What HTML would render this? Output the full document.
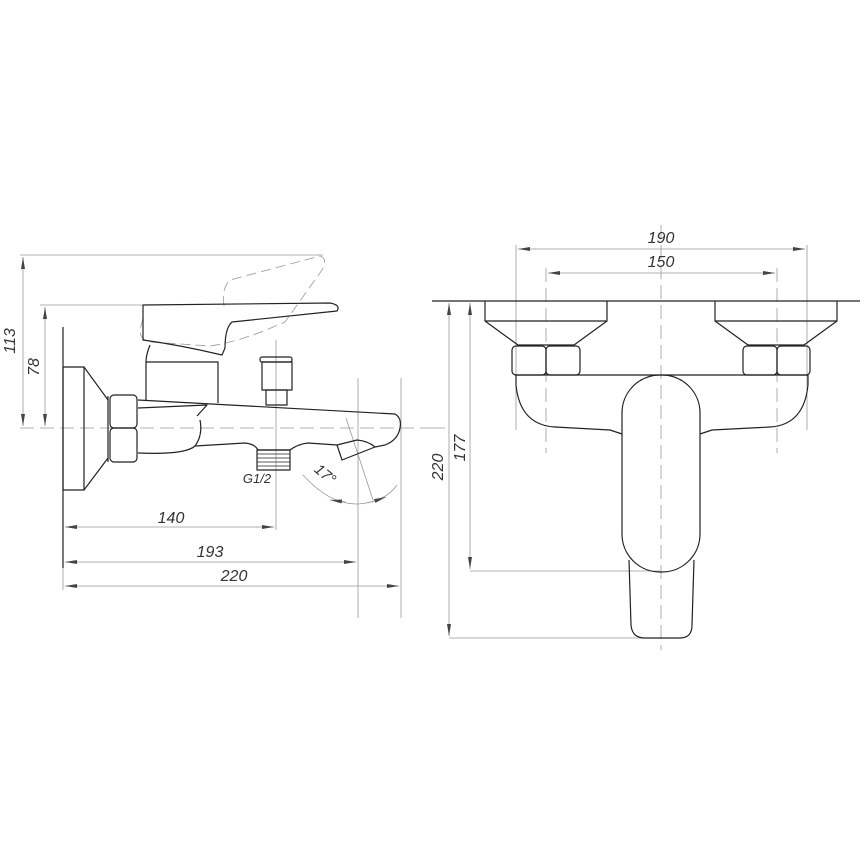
<!DOCTYPE html>
<html><head><meta charset="utf-8"><style>html,body{margin:0;padding:0;background:#fff}svg{display:block}</style></head>
<body>
<svg width="867" height="867" viewBox="0 0 867 867" xmlns="http://www.w3.org/2000/svg">
<defs>
<marker id="a" viewBox="0 0 12 4" refX="12" refY="2" markerWidth="12" markerHeight="4" orient="auto-start-reverse" markerUnits="userSpaceOnUse"><path d="M0,0L12,2L0,4z" fill="#444"/></marker>
</defs>
<g fill="none" stroke="#999" stroke-width="0.8">
<line x1="20" y1="255" x2="323" y2="255"/>
<line x1="40" y1="305" x2="150" y2="305"/>
<line x1="23" y1="257" x2="23" y2="426" marker-start="url(#a)" marker-end="url(#a)"/>
<line x1="45" y1="307" x2="45" y2="426" marker-start="url(#a)" marker-end="url(#a)"/>
<line x1="20" y1="428" x2="420" y2="428" stroke-dasharray="14,6"/>
<line x1="276" y1="340" x2="276" y2="530"/>
<line x1="358" y1="378" x2="358" y2="618"/>
<line x1="401" y1="378" x2="401" y2="618"/>
<line x1="63" y1="560" x2="63" y2="590"/>
<line x1="65" y1="527" x2="274" y2="527" marker-start="url(#a)" marker-end="url(#a)"/>
<line x1="65" y1="562" x2="356" y2="562" marker-start="url(#a)" marker-end="url(#a)"/>
<line x1="65" y1="586" x2="399" y2="586" marker-start="url(#a)" marker-end="url(#a)"/>
<line x1="346" y1="418" x2="373" y2="500"/>
<path d="M303,475 Q330,505 358,504 Q385,502 397,485"/>
<line x1="346" y1="502" x2="330" y2="500" marker-end="url(#a)"/>
<line x1="372" y1="502" x2="386" y2="497" marker-end="url(#a)"/>
<line x1="516" y1="245" x2="516" y2="430"/>
<line x1="807" y1="245" x2="807" y2="430"/>
<line x1="546" y1="268" x2="546" y2="453" stroke-dasharray="14,6"/>
<line x1="777" y1="268" x2="777" y2="453" stroke-dasharray="14,6"/>
<line x1="518" y1="249" x2="805" y2="249" marker-start="url(#a)" marker-end="url(#a)"/>
<line x1="548" y1="273" x2="775" y2="273" marker-start="url(#a)" marker-end="url(#a)"/>
<line x1="661" y1="225" x2="661" y2="650" stroke-dasharray="14,6"/>
<line x1="449" y1="303" x2="449" y2="636" marker-start="url(#a)" marker-end="url(#a)"/>
<line x1="470" y1="303" x2="470" y2="569" marker-start="url(#a)" marker-end="url(#a)"/>
<line x1="449" y1="638" x2="660" y2="638"/>
<line x1="470" y1="571" x2="660" y2="571"/>
<line x1="420" y1="428" x2="445" y2="428"/>
<path d="M143,318 L140,330 Q140,340 150,342 L210,346 Q240,342 285,322 L322,270 Q328,258 320,256 L230,280 Q220,290 225,310" stroke-dasharray="10,5"/>
</g>
<g fill="none" stroke="#222" stroke-width="1.2" stroke-linejoin="round">
<line x1="63" y1="327" x2="63" y2="568"/>
<rect x="63" y="367" width="21" height="123"/>
<path d="M84,367 L108,400 M84,490 L108,458"/>
<line x1="108" y1="396" x2="108" y2="462"/>
<rect x="110" y="395" width="27" height="33" rx="4"/>
<rect x="110" y="428" width="27" height="34" rx="4"/>
<path d="M143,305 L330,303 Q341,305 337,311 L232,322 Q225,328 225,348 L222,355 Q180,345 143,340 Z"/>
<path d="M150,345 Q146,355 146,362 L218,362 L218,403"/>
<line x1="146" y1="362" x2="146" y2="400"/>
<path d="M138,400 L395,414 Q402,418 400,428 Q398,440 385,445 L375,447"/>
<path d="M138,408 L207,405 L197,416"/>
<path d="M138,453 Q185,455 195,446 Q203,435 200,420"/>
<path d="M195,446 L245,443 Q255,444 258,450 L290,450 Q298,444 308,443 L337,445"/>
<path d="M337,445 L357,440 Q368,441 375,447 L342,460 Z"/>
<rect x="260" y="357" width="32" height="5" rx="2"/>
<rect x="262" y="362" width="30" height="28"/>
<rect x="266" y="390" width="21" height="15"/>
<rect x="257" y="450" width="33" height="20"/>
<path d="M257,454H290M257,458H290M257,462H290M257,466H290" stroke-width="0.7"/>
<line x1="432" y1="301" x2="860" y2="301"/>
<path d="M485,301 V321 H607 V301 M485,321 L518,345 H574 L607,321"/>
<path d="M715,301 V321 H837 V301 M715,321 L748,345 H804 L837,321"/>
<rect x="512" y="346" width="34" height="29" rx="4"/><rect x="546" y="346" width="34" height="29" rx="4"/>
<rect x="743" y="346" width="34" height="29" rx="4"/><rect x="777" y="346" width="33" height="29" rx="4"/>
<line x1="516" y1="375" x2="808" y2="375"/>
<path d="M516,375 V385 Q520,425 555,427 L610,430 L622,434"/>
<path d="M808,375 V385 Q804,425 770,427 L712,430 L700,434"/>
<rect x="622" y="375" width="78" height="197" rx="38"/>
<path d="M629,560 L631,625 Q632,638 645,638 L680,638 Q692,638 692,625 L694,560"/>
</g>
<g font-family="Liberation Sans, sans-serif" font-size="16" font-style="italic" fill="#333" text-anchor="middle">
<text x="171" y="523">140</text>
<text x="210" y="557">193</text>
<text x="234" y="581">220</text>
<text x="661" y="243">190</text>
<text x="661" y="267">150</text>
<text transform="translate(15,341) rotate(-90)">113</text>
<text transform="translate(39,367) rotate(-90)">78</text>
<text transform="translate(443,467) rotate(-90)">220</text>
<text transform="translate(465,448) rotate(-90)">177</text>
<text font-size="13" x="257" y="483">G1/2</text>
<text font-size="15" transform="translate(322,478) rotate(40)">17°</text>
</g>
</svg>
</body></html>
